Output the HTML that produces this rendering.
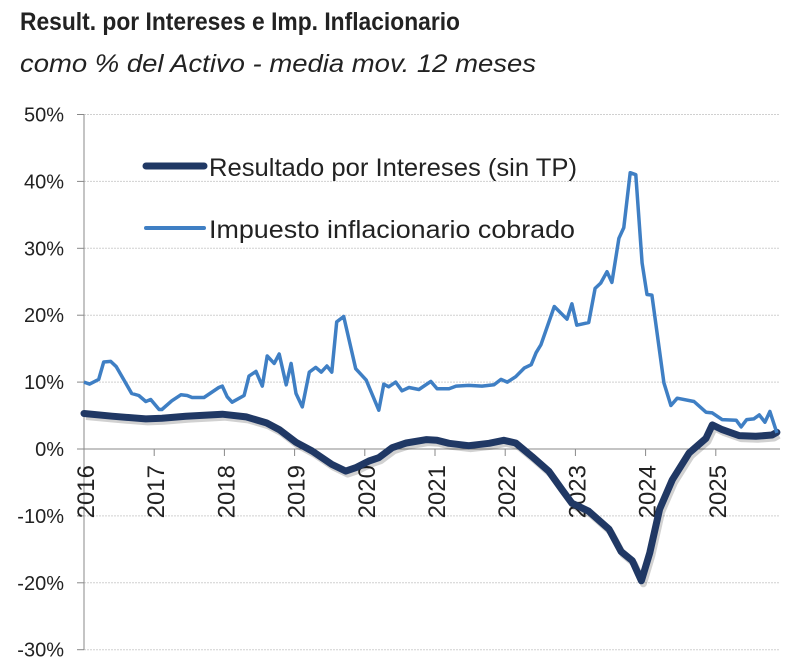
<!DOCTYPE html>
<html><head><meta charset="utf-8">
<style>
body{margin:0;background:#fff;width:800px;height:670px;overflow:hidden;font-family:"Liberation Sans",sans-serif;}
svg{display:block}
</style></head>
<body>
<svg id="chart" width="800" height="670" xmlns="http://www.w3.org/2000/svg">
  <text x="20" y="30" font-family="'Liberation Sans Narrow','Liberation Sans',sans-serif" font-weight="bold" font-size="25" fill="#222" textLength="440" lengthAdjust="spacingAndGlyphs">Result. por Intereses e Imp. Inflacionario</text>
  <text x="20" y="72" font-family="'Liberation Sans Narrow','Liberation Sans',sans-serif" font-style="italic" font-size="25" fill="#222" textLength="516" lengthAdjust="spacingAndGlyphs">como % del Activo - media mov. 12 meses</text>
  <g id="grid"></g>
  <g id="axes"></g>
  <g id="series"></g>
  <g>
    <line x1="146" y1="166" x2="204" y2="166" stroke="#203864" stroke-width="7" stroke-linecap="round"/>
    <text x="209" y="176" font-family="'Liberation Sans Narrow','Liberation Sans',sans-serif" font-size="25" fill="#222" textLength="368" lengthAdjust="spacingAndGlyphs">Resultado por Intereses (sin TP)</text>
    <line x1="146" y1="228" x2="204" y2="228" stroke="#3f7fc4" stroke-width="4" stroke-linecap="round"/>
    <text x="209" y="238" font-family="'Liberation Sans Narrow','Liberation Sans',sans-serif" font-size="25" fill="#222" textLength="366" lengthAdjust="spacingAndGlyphs">Impuesto inflacionario cobrado</text>
  </g>
</svg>
<script>
const yTicks = [50,40,30,20,10,0,-10,-20,-30];
const yearTicks = [2016,2017,2018,2019,2020,2021,2022,2023,2024,2025];
const impDates = [0,.08,.21,.28,.38,.46,.68,.78,.88,.95,1.07,1.11,1.25,1.38,1.47,1.54,1.71,1.92,1.97,2.04,2.11,2.28,2.35,2.45,2.54,2.61,2.71,2.78,2.88,2.95,3.02,3.11,3.21,3.30,3.38,3.46,3.53,3.60,3.70,3.87,4.02,4.10,4.20,4.27,4.34,4.44,4.53,4.63,4.77,4.94,5.03,5.20,5.30,5.48,5.67,5.84,5.94,6.03,6.15,6.27,6.37,6.44,6.51,6.70,6.88,6.95,7.02,7.19,7.28,7.36,7.45,7.52,7.62,7.69,7.78,7.86,7.95,8.02,8.09,8.26,8.36,8.45,8.69,8.86,8.95,9.09,9.29,9.36,9.44,9.54,9.62,9.70,9.77,9.87];
const impValues = [10.0,9.7,10.4,13.0,13.1,12.3,8.3,8.0,7.1,7.4,5.9,5.9,7.2,8.1,8.0,7.7,7.7,9.2,9.4,7.8,7.0,8.0,10.9,11.6,9.4,13.9,12.8,14.2,9.6,12.8,8.3,6.3,11.5,12.2,11.5,12.4,11.5,19.0,19.8,12.0,10.3,8.3,5.8,9.7,9.3,10.0,8.7,9.2,8.9,10.1,9.0,9.0,9.4,9.5,9.4,9.6,10.4,10.0,10.8,12.1,12.6,14.4,15.6,21.3,19.4,21.7,18.5,18.9,24.0,24.8,26.5,24.9,31.5,33.1,41.3,41.0,27.8,23.1,23.0,9.9,6.5,7.6,7.1,5.5,5.4,4.4,4.3,3.3,4.4,4.5,5.1,4.0,5.6,2.4];
const resDates = [0,.4,.88,1.11,1.45,1.97,2.31,2.60,2.78,3.02,3.25,3.53,3.73,3.87,4.06,4.20,4.39,4.59,4.88,5.03,5.20,5.48,5.77,5.98,6.15,6.38,6.62,6.81,6.95,7.19,7.48,7.65,7.81,7.94,8.06,8.20,8.38,8.62,8.86,8.95,9.09,9.33,9.57,9.80,9.87];
const resValues = [5.3,4.9,4.5,4.6,4.9,5.2,4.8,3.9,2.9,1.0,-0.3,-2.3,-3.3,-2.8,-1.8,-1.3,0.2,0.9,1.4,1.3,0.85,0.5,0.85,1.3,0.9,-1.1,-3.3,-6.1,-8.1,-9.3,-12.0,-15.3,-16.7,-19.7,-15.5,-9.0,-4.6,-0.6,1.6,3.6,2.9,2.0,1.9,2.1,2.5];

const NS='http://www.w3.org/2000/svg';
const X0=84, X1=780, PX_YEAR=70.2, Y0=449, PX_PCT=6.69;
const xs = t => X0 + t*PX_YEAR;
const xYear = y => X0 + (y-2016)*PX_YEAR;
const ys = v => Y0 - v*PX_PCT;
function mk(tag, attrs, parent){const e=document.createElementNS(NS,tag);for(const k in attrs)e.setAttribute(k,attrs[k]);parent.appendChild(e);return e;}
const grid=document.getElementById('grid'), axes=document.getElementById('axes'), series=document.getElementById('series');
yTicks.forEach(v=>{
  if(v!==0){const g=mk('line',{x1:X0,x2:X1,y1:ys(v),y2:ys(v),stroke:'#d0d0d0','stroke-width':1,'stroke-dasharray':'2,1'},grid);
  
  }
  const tk=mk('line',{x1:X0-7,x2:X0,y1:ys(v),y2:ys(v),stroke:'#888'},axes);
  
  
  const t=mk('text',{x:64,y:ys(v)+7,'text-anchor':'end','font-size':20,fill:'#222'},axes);
  t.textContent=v+'%';
  
  
});
const ya=mk('line',{x1:X0,x2:X0,y1:ys(50),y2:ys(-30),stroke:'#888'},axes);


const xa=mk('line',{x1:X0,x2:X1,y1:Y0,y2:Y0,stroke:'#888'},axes);


yearTicks.forEach(yr=>{
  const x=xYear(yr);
  const tk=mk('line',{x1:x,x2:x,y1:Y0,y2:Y0+7,stroke:'#888'},axes);
  
  
  const t=mk('text',{x:0,y:0,'font-size':24,fill:'#222',transform:`translate(${x+10},${Y0+16}) rotate(-90)`,'text-anchor':'end'},axes);
  t.textContent=yr;
  
  
});
function path(d,v){return d.map((t,i)=>(i?'L':'M')+xs(t).toFixed(1)+','+ys(v[i]).toFixed(1)).join('');}
const sh=mk('path',{d:path(resDates,resValues),fill:'none',stroke:'rgba(0,0,0,0.18)','stroke-width':7,'stroke-linejoin':'round',transform:'translate(2,3)'},series);


const p1=mk('path',{d:path(resDates,resValues),fill:'none',stroke:'#203864','stroke-width':7,'stroke-linejoin':'round','stroke-linecap':'round'},series);


const p2=mk('path',{d:path(impDates,impValues),fill:'none',stroke:'#3f7fc4','stroke-width':3.5,'stroke-linejoin':'round'},series);


</script>
</body></html>
